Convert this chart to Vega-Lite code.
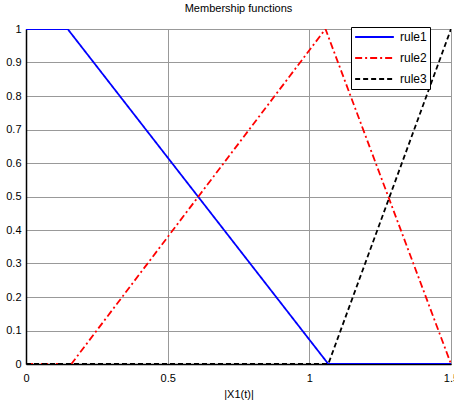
{
  "$schema": "https://vega.github.io/schema/vega-lite/v6.json",
  "autosize": {"type": "none"},
  "padding": {"left": 26, "top": 29, "right": 3, "bottom": 37},
  "width": 425,
  "height": 335,
  "background": "white",
  "config": {
    "font": "Liberation Sans",
    "view": {"stroke": "black", "strokeWidth": 1}
  },
  "title": {"text": "Membership functions", "fontSize": 11, "fontWeight": "normal", "font": "Liberation Sans", "color": "black", "offset": 9},
  "data": {
    "values": [
      {"x": 0, "y": 1, "rule": "rule1", "o": 1},
      {"x": 0.147, "y": 1, "rule": "rule1", "o": 2},
      {"x": 1.067, "y": 0, "rule": "rule1", "o": 3},
      {"x": 1.5, "y": 0, "rule": "rule1", "o": 4},
      {"x": 0, "y": 0, "rule": "rule2", "o": 1},
      {"x": 0.16, "y": 0, "rule": "rule2", "o": 2},
      {"x": 1.057, "y": 1, "rule": "rule2", "o": 3},
      {"x": 1.5, "y": 0, "rule": "rule2", "o": 4},
      {"x": 0, "y": 0, "rule": "rule3", "o": 1},
      {"x": 1.067, "y": 0, "rule": "rule3", "o": 2},
      {"x": 1.5, "y": 1, "rule": "rule3", "o": 3}
    ]
  },
  "mark": {"type": "line", "strokeWidth": 1.8, "clip": true},
  "encoding": {
    "x": {
      "field": "x", "type": "quantitative",
      "scale": {"domain": [0, 1.5], "nice": false, "zero": false},
      "axis": {
        "values": [0, 0.5, 1, 1.5], "format": "~g", "title": "|X1(t)|",
        "grid": true, "gridColor": "#999999", "gridWidth": 1, "gridOpacity": 1,
        "ticks": false, "domain": true, "domainColor": "black", "domainWidth": 1.5,
        "labelFlush": false, "labelFontSize": 11, "labelColor": "black", "labelPadding": 8,
        "titleFontSize": 11, "titleFontWeight": "normal", "titleColor": "black", "titlePadding": 5,
        "labelFont": "Liberation Sans", "titleFont": "Liberation Sans"
      }
    },
    "y": {
      "field": "y", "type": "quantitative",
      "scale": {"domain": [0, 1], "nice": false},
      "axis": {
        "values": [0, 0.1, 0.2, 0.3, 0.4, 0.5, 0.6, 0.7, 0.8, 0.9, 1], "format": "~g", "title": null,
        "grid": true, "gridColor": "#999999", "gridWidth": 1, "gridOpacity": 1,
        "ticks": false, "domain": true, "domainColor": "black", "domainWidth": 1.5,
        "labelFlush": false, "labelFontSize": 11, "labelColor": "black", "labelPadding": 5,
        "labelFont": "Liberation Sans"
      }
    },
    "order": {"field": "o"},
    "color": {
      "field": "rule", "type": "nominal",
      "scale": {"domain": ["rule1", "rule2", "rule3"], "range": ["#0000ff", "#ff0000", "#000000"]},
      "legend": {
        "title": null, "orient": "none", "legendX": 325, "legendY": -2,
        "strokeColor": "black", "fillColor": "white", "padding": 3,
        "symbolType": "stroke", "symbolSize": 1500, "symbolStrokeWidth": 1.8,
        "labelFontSize": 12, "labelColor": "black", "labelFont": "Liberation Sans",
        "rowPadding": 7, "clipHeight": 14, "cornerRadius": 0, "labelOffset": 5
      }
    },
    "strokeDash": {
      "field": "rule", "type": "nominal",
      "scale": {"domain": ["rule1", "rule2", "rule3"], "range": [[1, 0], [7, 3, 2, 3], [5, 3]]},
      "legend": null
    }
  }
}
